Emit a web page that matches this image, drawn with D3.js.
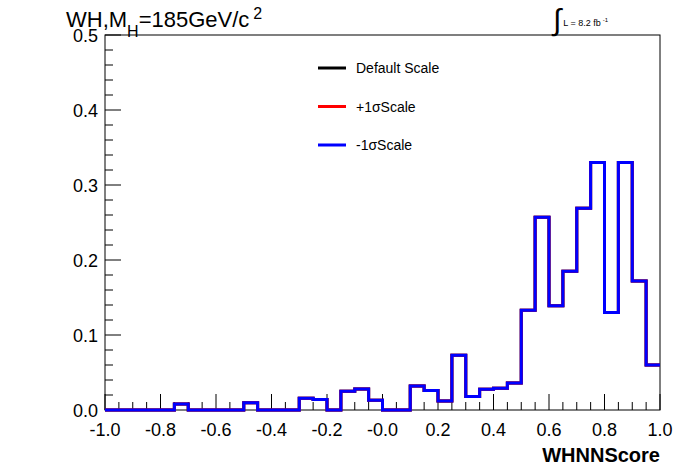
<!DOCTYPE html>
<html><head><meta charset="utf-8">
<script src="https://cdn.jsdelivr.net/npm/d3@7"></script>
<style>body{margin:0;background:#fff}text{font-family:"Liberation Sans",Arial,sans-serif}</style>
</head><body><svg id="c" width="696" height="472"></svg>
<script>
// bin edges from -1 to 1, 40 bins
const binLow = d3.range(40).map(i => -1 + i * 0.05);
const nnValues = [0,0,0,0,0,0.008,0,0,0,0,0.0098,0,0,0,0.0156,0.014,0,0.025,0.028,0.013,
  0,0,0.032,0.026,0.012,0.073,0.018,0.0276,0.029,0.036,
  0.133,0.257,0.139,0.185,0.269,0.330,0.130,0.330,0.172,0.06];
const series = [
  {name: "Default Scale", color: "#000"},
  {name: "+1σScale", color: "#f00"},
  {name: "-1σScale", color: "#00f"}
];
const xTicks = [-1,-0.8,-0.6,-0.4,-0.2,0,0.2,0.4,0.6,0.8,1];
const xLabels = ["-1.0","-0.8","-0.6","-0.4","-0.2","-0.0","0.2","0.4","0.6","0.8","1.0"];
const yTicks = [0,0.1,0.2,0.3,0.4,0.5];

const svg = d3.select("#c");
const L = 105, R = 660, T = 35, B = 410;
const x = d3.scaleLinear().domain([-1,1]).range([L,R]);
const y = d3.scaleLinear().domain([0,0.5]).range([B,T]);

svg.append("rect").attr("x",L).attr("y",T).attr("width",R-L).attr("height",B-T)
  .attr("fill","none").attr("stroke","#000").attr("stroke-width",1);

// x ticks
d3.range(0,41).forEach(i => {
  const v = -1 + i*0.05, major = i % 4 === 0;
  svg.append("line").attr("x1",x(v)).attr("x2",x(v)).attr("y1",B).attr("y2",B-(major?16:8)).attr("stroke","#000");
});
svg.selectAll(".xl").data(xTicks).join("text").attr("x",d=>x(d)).attr("y",B+26)
  .attr("text-anchor","middle").attr("font-size",18).text((d,i)=>xLabels[i]);
// y ticks
d3.range(0,26).forEach(i => {
  const v = i*0.02, major = i % 5 === 0;
  svg.append("line").attr("x1",L).attr("x2",L+(major?16:8)).attr("y1",y(v)).attr("y2",y(v)).attr("stroke","#000");
});
svg.selectAll(".yl").data(yTicks).join("text").attr("x",L-7).attr("y",d=>y(d)+7)
  .attr("text-anchor","end").attr("font-size",18).text(d=>d.toFixed(1));

svg.append("text").attr("x",R).attr("y",462).attr("text-anchor","end")
  .attr("font-size",20).attr("font-weight","bold").text("WHNNScore");

// histogram path
const pts = [];
binLow.forEach((b,i) => { pts.push([x(b), y(nnValues[i])]); pts.push([x(b+0.05), y(nnValues[i])]); });
const line = d3.line();
series.forEach(s => {
  svg.append("path").attr("d", line(pts)).attr("fill","none").attr("stroke",s.color).attr("stroke-width",3);
});

// legend
series.forEach((s,i) => {
  const ly = 68 + i*38.5;
  svg.append("line").attr("x1",318).attr("x2",346).attr("y1",ly).attr("y2",ly).attr("stroke",s.color).attr("stroke-width",3);
  svg.append("text").attr("x",356).attr("y",ly+5).attr("font-size",14).text(s.name);
});

// title
const t = svg.append("text").attr("x",66).attr("y",27).attr("font-size",22);
t.append("tspan").text("WH,M");
t.append("tspan").attr("dy",10).attr("font-size",16).text("H");
t.append("tspan").attr("dy",-10).text("=185GeV/c");
t.append("tspan").attr("dy",-8).attr("dx",4).attr("font-size",16).text("2");

const lum = svg.append("text").attr("x",553).attr("y",30).attr("font-size",11);
lum.append("tspan").attr("font-size",30).text("∫");
lum.append("tspan").attr("dy",-4).attr("dx",2).attr("font-size",9).text("L = 8.2 fb");
lum.append("tspan").attr("dy",-4).attr("dx",2).attr("font-size",6).text("-1");
</script></body></html>
